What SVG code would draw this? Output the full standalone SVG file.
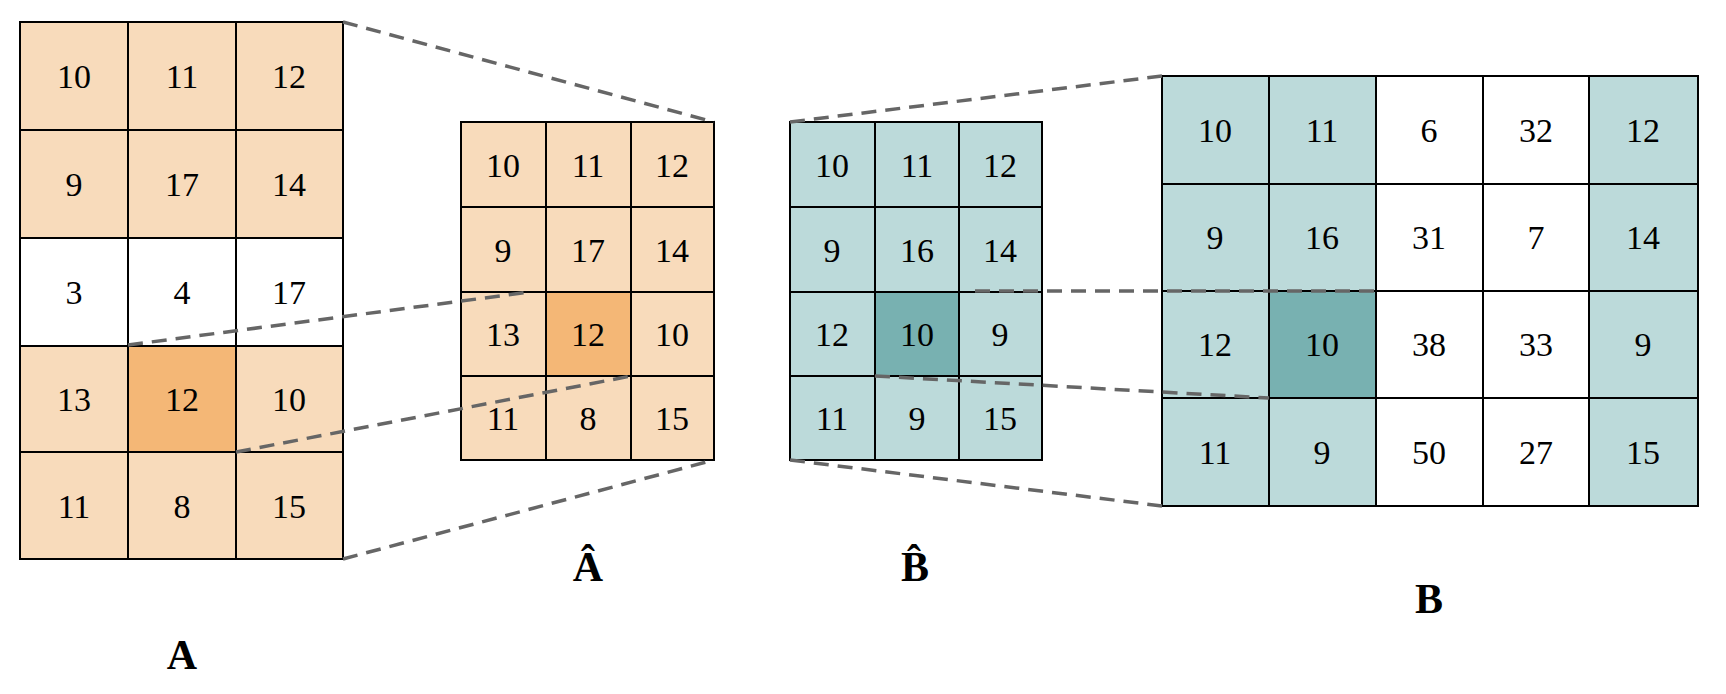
<svg xmlns="http://www.w3.org/2000/svg" width="1726" height="694" viewBox="0 0 1726 694">
<style>
.lo{fill:#F8DBBB;stroke:#000;stroke-width:2}
.do{fill:#F4B776;stroke:#000;stroke-width:2}
.lt{fill:#BCDADA;stroke:#000;stroke-width:2}
.dt{fill:#78B1B1;stroke:#000;stroke-width:2}
.w{fill:#fff;stroke:#000;stroke-width:2}
text{font-family:"Liberation Serif","DejaVu Serif",serif;font-size:34px;text-anchor:middle;dominant-baseline:central;fill:#000}
.lb{font-size:42px;font-weight:bold;dominant-baseline:auto}
.d{stroke:#666;stroke-width:3.5;stroke-dasharray:15 9;fill:none}
</style>
<g id="A">
<rect class="lo" x="20" y="22" width="108" height="108"/><text x="74" y="76">10</text>
<rect class="lo" x="128" y="22" width="108" height="108"/><text x="182" y="76">11</text>
<rect class="lo" x="236" y="22" width="107" height="108"/><text x="289" y="76">12</text>
<rect class="lo" x="20" y="130" width="108" height="108"/><text x="74" y="184">9</text>
<rect class="lo" x="128" y="130" width="108" height="108"/><text x="182" y="184">17</text>
<rect class="lo" x="236" y="130" width="107" height="108"/><text x="289" y="184">14</text>
<rect class="w" x="20" y="238" width="108" height="108"/><text x="74" y="292">3</text>
<rect class="w" x="128" y="238" width="108" height="108"/><text x="182" y="292">4</text>
<rect class="w" x="236" y="238" width="107" height="108"/><text x="289" y="292">17</text>
<rect class="lo" x="20" y="346" width="108" height="106"/><text x="74" y="399">13</text>
<rect class="do" x="128" y="346" width="108" height="106"/><text x="182" y="399">12</text>
<rect class="lo" x="236" y="346" width="107" height="106"/><text x="289" y="399">10</text>
<rect class="lo" x="20" y="452" width="108" height="107"/><text x="74" y="506">11</text>
<rect class="lo" x="128" y="452" width="108" height="107"/><text x="182" y="506">8</text>
<rect class="lo" x="236" y="452" width="107" height="107"/><text x="289" y="506">15</text>
<text class="lb" x="182" y="669">A</text>
</g>
<g id="Ahat">
<rect class="lo" x="461" y="122" width="85" height="85"/><text x="503" y="165">10</text>
<rect class="lo" x="546" y="122" width="85" height="85"/><text x="588" y="165">11</text>
<rect class="lo" x="631" y="122" width="83" height="85"/><text x="672" y="165">12</text>
<rect class="lo" x="461" y="207" width="85" height="85"/><text x="503" y="250">9</text>
<rect class="lo" x="546" y="207" width="85" height="85"/><text x="588" y="250">17</text>
<rect class="lo" x="631" y="207" width="83" height="85"/><text x="672" y="250">14</text>
<rect class="lo" x="461" y="292" width="85" height="84"/><text x="503" y="334">13</text>
<rect class="do" x="546" y="292" width="85" height="84"/><text x="588" y="334">12</text>
<rect class="lo" x="631" y="292" width="83" height="84"/><text x="672" y="334">10</text>
<rect class="lo" x="461" y="376" width="85" height="84"/><text x="503" y="418">11</text>
<rect class="lo" x="546" y="376" width="85" height="84"/><text x="588" y="418">8</text>
<rect class="lo" x="631" y="376" width="83" height="84"/><text x="672" y="418">15</text>
<text class="lb" x="588" y="581">Â</text>
</g>
<g id="Bhat">
<rect class="lt" x="790" y="122" width="85" height="85"/><text x="832" y="165">10</text>
<rect class="lt" x="875" y="122" width="84" height="85"/><text x="917" y="165">11</text>
<rect class="lt" x="959" y="122" width="83" height="85"/><text x="1000" y="165">12</text>
<rect class="lt" x="790" y="207" width="85" height="85"/><text x="832" y="250">9</text>
<rect class="lt" x="875" y="207" width="84" height="85"/><text x="917" y="250">16</text>
<rect class="lt" x="959" y="207" width="83" height="85"/><text x="1000" y="250">14</text>
<rect class="lt" x="790" y="292" width="85" height="84"/><text x="832" y="334">12</text>
<rect class="dt" x="875" y="292" width="84" height="84"/><text x="917" y="334">10</text>
<rect class="lt" x="959" y="292" width="83" height="84"/><text x="1000" y="334">9</text>
<rect class="lt" x="790" y="376" width="85" height="84"/><text x="832" y="418">11</text>
<rect class="lt" x="875" y="376" width="84" height="84"/><text x="917" y="418">9</text>
<rect class="lt" x="959" y="376" width="83" height="84"/><text x="1000" y="418">15</text>
<text class="lb" x="915" y="581">B̂</text>
</g>
<g id="B">
<rect class="lt" x="1162" y="76" width="107" height="108"/><text x="1215" y="130">10</text>
<rect class="lt" x="1269" y="76" width="107" height="108"/><text x="1322" y="130">11</text>
<rect class="w" x="1376" y="76" width="107" height="108"/><text x="1429" y="130">6</text>
<rect class="w" x="1483" y="76" width="106" height="108"/><text x="1536" y="130">32</text>
<rect class="lt" x="1589" y="76" width="109" height="108"/><text x="1643" y="130">12</text>
<rect class="lt" x="1162" y="184" width="107" height="107"/><text x="1215" y="237">9</text>
<rect class="lt" x="1269" y="184" width="107" height="107"/><text x="1322" y="237">16</text>
<rect class="w" x="1376" y="184" width="107" height="107"/><text x="1429" y="237">31</text>
<rect class="w" x="1483" y="184" width="106" height="107"/><text x="1536" y="237">7</text>
<rect class="lt" x="1589" y="184" width="109" height="107"/><text x="1643" y="237">14</text>
<rect class="lt" x="1162" y="291" width="107" height="107"/><text x="1215" y="344">12</text>
<rect class="dt" x="1269" y="291" width="107" height="107"/><text x="1322" y="344">10</text>
<rect class="w" x="1376" y="291" width="107" height="107"/><text x="1429" y="344">38</text>
<rect class="w" x="1483" y="291" width="106" height="107"/><text x="1536" y="344">33</text>
<rect class="lt" x="1589" y="291" width="109" height="107"/><text x="1643" y="344">9</text>
<rect class="lt" x="1162" y="398" width="107" height="108"/><text x="1215" y="452">11</text>
<rect class="lt" x="1269" y="398" width="107" height="108"/><text x="1322" y="452">9</text>
<rect class="w" x="1376" y="398" width="107" height="108"/><text x="1429" y="452">50</text>
<rect class="w" x="1483" y="398" width="106" height="108"/><text x="1536" y="452">27</text>
<rect class="lt" x="1589" y="398" width="109" height="108"/><text x="1643" y="452">15</text>
<text class="lb" x="1429" y="613">B</text>
</g>
<g id="connectors">
<line class="d" x1="343" y1="22" x2="714" y2="122"/>
<line class="d" x1="343" y1="559" x2="714" y2="460"/>
<line class="d" x1="128" y1="345" x2="530" y2="292"/>
<line class="d" x1="236" y1="452" x2="631" y2="376"/>
<line class="d" x1="790" y1="122" x2="1162" y2="76"/>
<line class="d" x1="790" y1="460" x2="1162" y2="506"/>
<line class="d" x1="975" y1="291" x2="1376" y2="291"/>
<line class="d" x1="875" y1="376" x2="1269" y2="398"/>
</g>
</svg>
